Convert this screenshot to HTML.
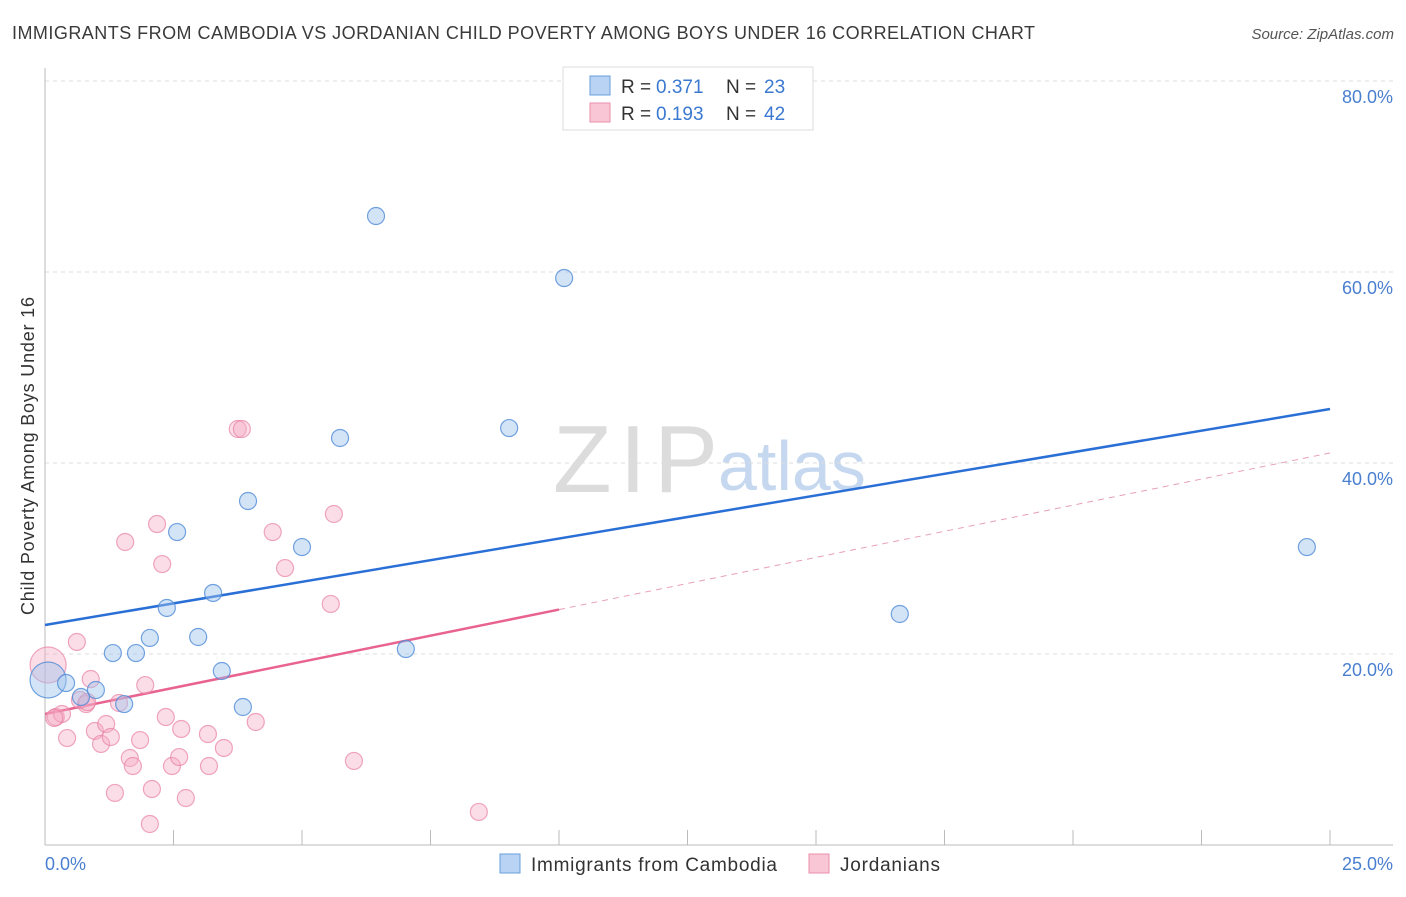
<!DOCTYPE html>
<html><head><meta charset="utf-8"><style>
body{margin:0;background:#fff;font-family:"Liberation Sans",sans-serif}
svg text{font-family:"Liberation Sans",sans-serif}
</style></head><body>
<svg id="c" width="1406" height="892" xmlns="http://www.w3.org/2000/svg">
<text x="12" y="39" font-size="18" fill="#3a3a3a" textLength="1023">IMMIGRANTS FROM CAMBODIA VS JORDANIAN CHILD POVERTY AMONG BOYS UNDER 16 CORRELATION CHART</text>
<text x="1394" y="39" font-size="15" fill="#555" text-anchor="end" font-style="italic">Source: ZipAtlas.com</text>
<g>
<text x="553" y="492" font-size="96" fill="#dcdcdc" font-family="Liberation Serif,serif" textLength="165">ZIP</text>
<text x="718" y="490" font-size="70" fill="#c5d8ef">atlas</text>
</g>
<g id="grid"></g><g id="axes"></g><g id="lines"></g><g id="pts"></g>
<text transform="translate(34,456) rotate(-90)" font-size="18" fill="#333" text-anchor="middle" textLength="318">Child Poverty Among Boys Under 16</text>
<text x="45" y="870" font-size="18" fill="#4a7fd0">0.0%</text>
<text x="1393" y="870" font-size="18" fill="#4a7fd0" text-anchor="end">25.0%</text>
<g>
<rect x="563" y="67" width="250" height="63" fill="#fff" stroke="#ddd"/>
<rect x="590" y="76" width="20" height="19" fill="#b8d3f4" stroke="#6a9fdc"/>
<text y="93" font-size="19" fill="#333"><tspan x="621">R =</tspan><tspan x="656" fill="#3b78d0">0.371</tspan><tspan x="726">N =</tspan><tspan x="764" fill="#3b78d0">23</tspan></text>
<rect x="590" y="103" width="20" height="19" fill="#f8c6d5" stroke="#eb8fab"/>
<text y="120" font-size="19" fill="#333"><tspan x="621">R =</tspan><tspan x="656" fill="#3b78d0">0.193</tspan><tspan x="726">N =</tspan><tspan x="764" fill="#3b78d0">42</tspan></text>
</g>
<g>
<rect x="500" y="854" width="20" height="19" fill="#b8d3f4" stroke="#6a9fdc"/>
<text x="531" y="871" font-size="19" fill="#333" textLength="246">Immigrants from Cambodia</text>
<rect x="809" y="854" width="20" height="19" fill="#f8c6d5" stroke="#eb8fab"/>
<text x="840" y="871" font-size="19" fill="#333" textLength="100">Jordanians</text>
</g>
</svg>
<script>
const yTicks=[20,40,60,80];
const yTickLabels=["20.0%","40.0%","60.0%","80.0%"];
const xTicks=[0,2.5,5,7.5,10,12.5,15,17.5,20,22.5,25];
const blueX=[0.06,0.41,0.70,0.99,1.54,1.32,1.77,2.04,2.37,2.57,2.98,3.27,3.44,3.85,3.95,5.00,5.74,6.44,7.02,9.03,10.10,16.63,24.55];
const blueY=[17.28,16.96,15.50,16.23,14.76,20.10,20.10,21.68,24.82,32.77,21.78,26.39,18.22,14.45,36.02,31.20,42.62,65.86,20.52,43.66,59.37,24.19,31.20];
const pinkX=[0.06,0.21,0.33,0.43,0.62,0.68,0.80,0.89,0.97,1.09,1.19,1.28,1.36,1.44,1.56,1.65,1.71,1.85,1.95,2.04,2.08,2.18,2.28,2.35,2.47,2.61,2.65,2.74,3.17,3.19,3.48,3.75,3.83,4.10,4.43,4.67,5.56,5.62,6.01,8.44,0.18,0.82];
const pinkY=[18.85,13.40,13.72,11.20,21.26,15.18,14.76,17.38,11.94,10.58,12.67,11.31,5.45,14.87,31.73,9.11,8.27,10.99,16.75,2.20,5.86,33.61,29.42,13.40,8.27,9.21,12.15,4.92,11.62,8.27,10.16,43.56,43.56,12.88,32.77,29.00,25.24,34.66,8.80,3.46,13.30,14.97];
const blueLine=[23.04,45.65];
const pinkLine=[13.72,41.05];
const pinkSolidEnd=10.0;
const X=v=>45+v/25*1285, Y=v=>845-v*9.55;
const NS="http://www.w3.org/2000/svg";
function mk(parent,tag,attrs){const e=document.createElementNS(NS,tag);for(const k in attrs)e.setAttribute(k,attrs[k]);document.getElementById(parent).appendChild(e);return e;}
yTicks.forEach((t,i)=>{
 const g=mk('grid','line',{x1:45,x2:1393,y1:Y(t),y2:Y(t),stroke:'#ddd','stroke-dasharray':'4,4'});
 
 
 const l=mk('grid','text',{x:1393,y:Y(t)+22,'font-size':18,fill:'#4a7fd0','text-anchor':'end'});
 l.textContent=yTickLabels[i];
 
 
});
const ax=mk('axes','line',{x1:45,x2:45,y1:68,y2:845,stroke:'#bbb'});


const bx=mk('axes','line',{x1:45,x2:1393,y1:845,y2:845,stroke:'#bbb'});


xTicks.forEach(t=>{
 const e=mk('axes','line',{x1:X(t),x2:X(t),y1:830,y2:845,stroke:'#bbb'});
 
 
});
const pl=v=>pinkLine[0]+(pinkLine[1]-pinkLine[0])*v/25;
const bl=mk('lines','line',{x1:X(0),y1:Y(blueLine[0]),x2:X(25),y2:Y(blueLine[1]),stroke:'#2a6fd6','stroke-width':2.5});


const ps=mk('lines','line',{x1:X(0),y1:Y(pl(0)),x2:X(pinkSolidEnd),y2:Y(pl(pinkSolidEnd)),stroke:'#e8638f','stroke-width':2.5});


const pd=mk('lines','line',{x1:X(pinkSolidEnd),y1:Y(pl(pinkSolidEnd)),x2:X(25),y2:Y(pl(25)),stroke:'#e8a0b8','stroke-width':1,'stroke-dasharray':'6,5'});


pinkX.forEach((x,i)=>{
 const c=mk('pts','circle',{cx:X(x),cy:Y(pinkY[i]),r:i==0?18:8.5,fill:'rgba(244,170,194,0.4)',stroke:'rgba(232,130,164,0.7)','stroke-width':1.2});
 
 
});
blueX.forEach((x,i)=>{
 const c=mk('pts','circle',{cx:X(x),cy:Y(blueY[i]),r:i==0?18:8.5,fill:'rgba(160,196,238,0.45)',stroke:'rgba(80,140,215,0.8)','stroke-width':1.2});
 
 
});
</script>
</body></html>
